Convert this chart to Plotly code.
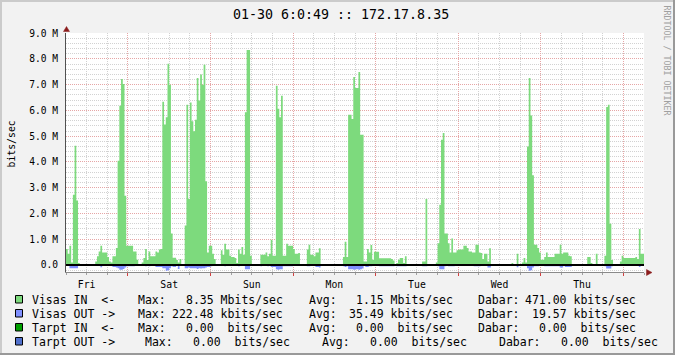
import plotly.graph_objects as go
from datetime import datetime, timedelta

# ---------------- data (Mbit/s, 30-minute averages, Fri 06:00 -> Fri 06:00) ----------------
START = datetime(2009, 1, 23, 6, 0)
END = datetime(2009, 1, 30, 6, 0)
STEP = timedelta(minutes=30)

visas_in_fri = [0.62, 0.44, 0.75, 0.10, 2.73, 4.63, 2.50, 0.08,
                0, 0, 0, 0, 0, 0, 0, 0,
                0, 0.14, 0.34, 0.53, 0.75, 0.49, 0.49, 0.49,
                0.31, 0.14, 0.10, 0.34, 0.34, 0.66, 4.05, 6.18,
                7.22, 7.03, 2.69, 0.75, 0.75, 0.75, 0.75, 0.53,
                0.53, 0.21, 0, 0, 0.10, 0.27, 0.62, 0.20]
visas_in_sat = [0.53, 0.34, 0.34, 0.34, 0.53, 0.49, 0.60, 0.62,
                6.34, 5.45, 5.74, 7.81, 7.00, 1.22, 0.28, 0.28,
                0.20, 0.10, 0.23, 0, 0, 1.53, 6.22, 2.56,
                6.31, 5.58, 5.19, 5.64, 7.26, 6.39, 7.39, 7.00,
                7.77, 3.25, 0.49, 0.75, 0.75, 0.44, 0.23, 0,
                0, 0, 0.57, 0.40, 0.83, 0.60, 0.60, 0.36]
visas_in_sun = [0.31, 0.31, 0.27, 0.08, 0.60, 0.44, 0.70, 0.40,
                5.93, 8.35, 8.35, 0.36, 0, 0, 0, 0,
                0, 0.40, 0.40, 0.40, 0.49, 0.34, 0.44, 0.98,
                0.36, 0.36, 6.96, 6.07, 5.74, 6.57, 0.36, 0.36,
                0.83, 0.75, 0.75, 0.75, 0.62, 0.44, 0.44, 0.47,
                0, 0, 0, 0, 0.60, 0.79, 0.40, 0.40]
visas_in_mon = [0.34, 0.49, 0.49, 0.65, 0, 0, 0, 0,
                0, 0, 0, 0, 0, 0, 0, 0,
                0, 0.31, 0.90, 0.31, 5.83, 5.83, 5.67, 7.30,
                6.87, 6.87, 7.49, 5.06, 5.06, 0.14, 0.14, 0.62,
                0.49, 0.78, 0.21, 0.52, 0.52, 0.52, 0.26, 0.26,
                0.26, 0.26, 0.26, 0.26, 0.26, 0.23, 0.18, 0]
visas_in_tue = [0.08, 0.21, 0.27, 0.27, 0.08, 0.34, 0, 0,
                0, 0, 0, 0, 0, 0, 0, 0.14,
                0.14, 2.56, 0, 0, 0, 0, 0, 0.10,
                0.85, 2.34, 4.86, 5.12, 1.22, 1.22, 0.85, 0.49,
                1.03, 0.49, 0.49, 0.57, 0.60, 0.60, 0.60, 0.75,
                0.75, 0.66, 0.53, 0.53, 0.49, 0.49, 0.79, 0.79]
visas_in_wed = [0.49, 0.47, 0.23, 0.44, 0.44, 0.14, 0.65, 0,
                0, 0, 0, 0, 0, 0, 0, 0,
                0, 0, 0, 0.08, 0, 0, 0.44, 0,
                0, 0.10, 0.27, 0.10, 4.60, 7.26, 5.80, 3.48,
                0.79, 0.79, 0.66, 0.49, 0.21, 0.21, 0.31, 0.49,
                0.31, 0.31, 0.31, 0.31, 0.44, 0.44, 0.44, 0.79]
visas_in_thu = [0.44, 0.49, 0.49, 0.49, 0.36, 0.34, 0, 0,
                0, 0, 0, 0, 0, 0, 0, 0.31,
                0.31, 0.08, 0, 0, 0.44, 0, 0, 0,
                0, 0.36, 6.13, 6.22, 1.60, 0.20, 0, 0,
                0, 0, 0.14, 0.36, 0.27, 0.27, 0.27, 0.27,
                0.27, 0.27, 0.27, 0.31, 0.23, 1.40, 0.44, 0.44]

visas_out_fri = [0.03, 0.03, 0.12, 0.12, 0.12, 0.12, 0.12, 0.03,
                 0, 0, 0, 0, 0, 0, 0, 0,
                 0, 0.02, 0.03, 0.03, 0.09, 0.03, 0.03, 0.03,
                 0.03, 0.02, 0.02, 0.08, 0.08, 0.10, 0.12, 0.18,
                 0.18, 0.15, 0.10, 0.05, 0.05, 0.05, 0.05, 0.05,
                 0.03, 0.02, 0, 0, 0.02, 0.03, 0.05, 0.02]
visas_out_sat = [0.05, 0.02, 0.02, 0.02, 0.08, 0.08, 0.08, 0.08,
                 0.12, 0.12, 0.22, 0.20, 0.12, 0.05, 0.08, 0.08,
                 0.03, 0.15, 0.03, 0, 0, 0.12, 0.12, 0.10,
                 0.12, 0.12, 0.12, 0.12, 0.15, 0.12, 0.13, 0.12,
                 0.12, 0.10, 0.08, 0.08, 0.05, 0.03, 0.02, 0,
                 0, 0, 0.03, 0.03, 0.05, 0.03, 0.03, 0.02]
visas_out_sun = [0.02, 0.02, 0.02, 0.01, 0.05, 0.03, 0.03, 0.03,
                 0.16, 0.16, 0.16, 0.02, 0, 0, 0, 0,
                 0, 0.05, 0.02, 0.02, 0.03, 0.05, 0.03, 0.08,
                 0.08, 0.08, 0.16, 0.18, 0.16, 0.16, 0.05, 0.05,
                 0.05, 0.05, 0.05, 0.05, 0.03, 0.03, 0.03, 0.03,
                 0, 0, 0, 0, 0.05, 0.05, 0.02, 0.02]
visas_out_mon = [0.02, 0.08, 0.08, 0.10, 0, 0, 0, 0,
                 0, 0, 0, 0, 0, 0, 0, 0,
                 0, 0.05, 0.08, 0.05, 0.16, 0.16, 0.16, 0.18,
                 0.16, 0.16, 0.18, 0.16, 0.13, 0.03, 0.08, 0.08,
                 0.05, 0.05, 0.02, 0.02, 0.02, 0.02, 0.05, 0.05,
                 0.05, 0.05, 0.05, 0.05, 0.05, 0.05, 0.05, 0]
visas_out_tue = [0.05, 0.05, 0.05, 0.05, 0.05, 0.05, 0, 0,
                 0, 0, 0, 0, 0, 0, 0, 0.05,
                 0.05, 0.05, 0, 0, 0, 0, 0, 0.02,
                 0.05, 0.16, 0.16, 0.16, 0.05, 0.03, 0.05, 0.05,
                 0.05, 0.05, 0.03, 0.03, 0.03, 0.03, 0.03, 0.03,
                 0.03, 0.03, 0.03, 0.03, 0.03, 0.05, 0.05, 0.05]
visas_out_wed = [0.05, 0.03, 0.02, 0.03, 0.03, 0.10, 0.10, 0,
                 0, 0, 0, 0, 0, 0, 0, 0,
                 0, 0, 0, 0.02, 0, 0, 0.09, 0,
                 0, 0.02, 0.03, 0.02, 0.12, 0.22, 0.20, 0.10,
                 0.05, 0.05, 0.05, 0.03, 0.02, 0.02, 0.05, 0.05,
                 0.05, 0.05, 0.05, 0.05, 0.05, 0.05, 0.05, 0.10]
visas_out_thu = [0.10, 0.03, 0.08, 0.08, 0.08, 0.08, 0, 0,
                 0, 0, 0, 0, 0, 0, 0, 0.02,
                 0.02, 0.01, 0, 0, 0.03, 0, 0, 0,
                 0, 0.05, 0.13, 0.13, 0.13, 0.05, 0, 0,
                 0, 0, 0.02, 0.03, 0.03, 0.03, 0.03, 0.03,
                 0.03, 0.03, 0.03, 0.03, 0.03, 0.08, 0.03, 0.03]

y_tick_vals = [0, 1, 2, 3, 4, 5, 6, 7, 8, 9]
y_tick_text = ["0.0", "1.0 M", "2.0 M", "3.0 M", "4.0 M", "5.0 M",
               "6.0 M", "7.0 M", "8.0 M", "9.0 M"]

legend_labels = ["Visas IN  <-", "Visas OUT ->", "Tarpt IN  <-", "Tarpt OUT ->"]
legend_max = ["8.35 Mbits/sec", "222.48 kbits/sec", "0.00\u00a0\u00a0bits/sec", "0.00\u00a0\u00a0bits/sec"]
legend_avg = ["1.15 Mbits/sec", "35.49 kbits/sec", "0.00\u00a0\u00a0bits/sec", "0.00\u00a0\u00a0bits/sec"]
legend_now = ["471.00 kbits/sec", "19.57 kbits/sec", "0.00\u00a0\u00a0bits/sec", "0.00\u00a0\u00a0bits/sec"]

TITLE = "01-30 6:0:49 :: 172.17.8.35"
WATERMARK = "RRDTOOL / TOBI OETIKER"

# ---------------- styling ----------------
C_IN = "#7DDA7D"
C_OUT = "#8090FF"
C_TIN = "#00A000"
C_TOUT = "#5070CC"
legend_colors = [C_IN, C_OUT, C_TIN, C_TOUT]
FONT = "DejaVu Sans Mono"

W, H = 675, 355
ML, MR, MT, MB = 66, 31, 33, 83
PW = W - ML - MR
PH = H - MT - MB


def px(x):
    return (x - ML) / PW


def py(y):
    return (MT + PH - y) / PH


visas_in = (visas_in_fri + visas_in_sat + visas_in_sun + visas_in_mon +
            visas_in_tue + visas_in_wed + visas_in_thu)
visas_out = (visas_out_fri + visas_out_sat + visas_out_sun + visas_out_mon +
             visas_out_tue + visas_out_wed + visas_out_thu)

t_in = [START + i * STEP for i in range(len(visas_in))] + [END]
y_in = visas_in + [visas_in[-1]]
t_out = [START + i * STEP for i in range(len(visas_out))] + [END]
y_out = [-v for v in visas_out] + [-visas_out[-1]]

fig = go.Figure()
fig.add_trace(go.Scatter(x=t_in, y=y_in, mode="lines", line=dict(width=0, shape="hv"),
                         fill="tozeroy", fillcolor=C_IN, hoverinfo="skip", showlegend=False))
fig.add_trace(go.Scatter(x=t_out, y=y_out, mode="lines", line=dict(width=0, shape="hv"),
                         fill="tozeroy", fillcolor=C_OUT, hoverinfo="skip", showlegend=False))

RED_GRID = "#E6A6A6"
GRAY_GRID = "#D2D2D2"
DASH = "1px,1px"

fig.update_layout(
    width=W, height=H,
    margin=dict(l=ML, r=MR, t=MT, b=MB, pad=0),
    paper_bgcolor="#F2F2F2",
    plot_bgcolor="#FFFFFF",
    showlegend=False,
    font=dict(family=FONT, color="#000000"),
    xaxis=dict(
        range=[START, END], type="date",
        tick0="2009-01-23 00:00", dtick=86400000,
        ticklabelmode="period", tickformat="%a",
        showgrid=True, gridcolor=RED_GRID, griddash=DASH, gridwidth=1,
        ticks="outside", ticklen=3, tickcolor="#D04040", tickwidth=1,
        showline=True, linecolor="#8A8A8A", linewidth=1,
        zeroline=False,
        tickfont=dict(family=FONT, size=9.8, color="#000000"),
        minor=dict(tick0="2009-01-23 00:00", dtick=21600000, showgrid=True,
                   gridcolor=GRAY_GRID, griddash=DASH, gridwidth=1,
                   ticks="outside", ticklen=2, tickcolor="#A0A0A0"),
        fixedrange=True,
    ),
    yaxis=dict(
        range=[-0.27, 9.005],
        tickmode="array", tickvals=y_tick_vals, ticktext=y_tick_text,
        showgrid=True, gridcolor=RED_GRID, griddash=DASH, gridwidth=1,
        ticks="", showline=True, linecolor="#505050", linewidth=1,
        zeroline=False, ticklabelstandoff=5,
        tickfont=dict(family=FONT, size=9.6, color="#000000"),
        minor=dict(tick0=0, dtick=0.2, showgrid=True, gridcolor=GRAY_GRID,
                   griddash=DASH, gridwidth=1),
        fixedrange=True,
    ),
)

shapes = []
# zero rule
shapes.append(dict(type="line", xref="paper", yref="y", x0=0, x1=1, y0=0, y1=0,
                   line=dict(color="#000000", width=2), layer="above"))
# axis arrows
ARROW = "#8B1C1C"
shapes.append(dict(type="path", xref="paper", yref="paper", layer="above",
                   path=f"M {px(66.5)} {py(26.5)} L {px(63.5)} {py(31.5)} L {px(69.5)} {py(31.5)} Z",
                   fillcolor=ARROW, line=dict(color=ARROW, width=0.5)))
shapes.append(dict(type="path", xref="paper", yref="paper", layer="above",
                   path=f"M {px(652)} {py(272.5)} L {px(646.5)} {py(269.5)} L {px(646.5)} {py(275.5)} Z",
                   fillcolor=ARROW, line=dict(color=ARROW, width=0.5)))
# frame
shapes.append(dict(type="rect", xref="paper", yref="paper", x0=px(0), x1=px(W), y0=py(0), y1=py(2),
                   fillcolor="#CBCBCB", line=dict(width=0), layer="above"))
shapes.append(dict(type="rect", xref="paper", yref="paper", x0=px(0), x1=px(2), y0=py(0), y1=py(H),
                   fillcolor="#CBCBCB", line=dict(width=0), layer="above"))
shapes.append(dict(type="rect", xref="paper", yref="paper", x0=px(0), x1=px(W), y0=py(H - 2), y1=py(H),
                   fillcolor="#999999", line=dict(width=0), layer="above"))
shapes.append(dict(type="rect", xref="paper", yref="paper", x0=px(W - 2), x1=px(W), y0=py(0), y1=py(H),
                   fillcolor="#999999", line=dict(width=0), layer="above"))

ann = []
ann.append(dict(text=TITLE, x=px(341), y=py(14.5), xref="paper", yref="paper",
                xanchor="center", yanchor="middle", showarrow=False,
                font=dict(family=FONT, size=13.3, color="#000000"), borderpad=0))
ann.append(dict(text=WATERMARK, x=px(666.5), y=py(60), xref="paper", yref="paper",
                xanchor="center", yanchor="middle", showarrow=False, textangle=90,
                font=dict(family=FONT, size=8.3, color="#A0A0A0"), borderpad=0))
ann.append(dict(text="bits/sec", x=px(10.5), y=py(144), xref="paper", yref="paper",
                xanchor="center", yanchor="middle", showarrow=False, textangle=-90,
                font=dict(family=FONT, size=9.8, color="#000000"), borderpad=0))

row_y = [299.5, 313.5, 327.5, 341.5]
for r in range(4):
    yy = row_y[r]
    shift4 = r == 3
    shapes.append(dict(type="rect", xref="paper", yref="paper",
                       x0=px(15.5), x1=px(22.5), y0=py(yy - 4), y1=py(yy + 3.5),
                       fillcolor=legend_colors[r], line=dict(color="#000000", width=1), layer="above"))
    lf = dict(family=FONT, size=11.5, color="#000000")
    ann.append(dict(text=legend_labels[r], x=px(30.6), y=py(yy), xref="paper", yref="paper",
                    xanchor="left", yanchor="middle", showarrow=False, font=lf, borderpad=0))
    xm = 144.0 if shift4 else 137.3
    xa = 321.2 if shift4 else 307.8
    xd = 497.8 if shift4 else 477.2
    vm = 290.8 if shift4 else 284.0
    va = 467.5 if shift4 else 454.0
    vd = 659.0 if shift4 else 637.4
    for txt, xx, anc in [("Max:", xm, "left"), (legend_max[r], vm, "right"),
                         ("Avg:", xa, "left"), (legend_avg[r], va, "right"),
                         ("Dabar:", xd, "left"), (legend_now[r], vd, "right")]:
        ann.append(dict(text=txt, x=px(xx), y=py(yy), xref="paper", yref="paper",
                        xanchor=anc, yanchor="middle", showarrow=False, font=lf, borderpad=0))

fig.update_layout(shapes=shapes, annotations=ann)
fig.write_html("out.html")
